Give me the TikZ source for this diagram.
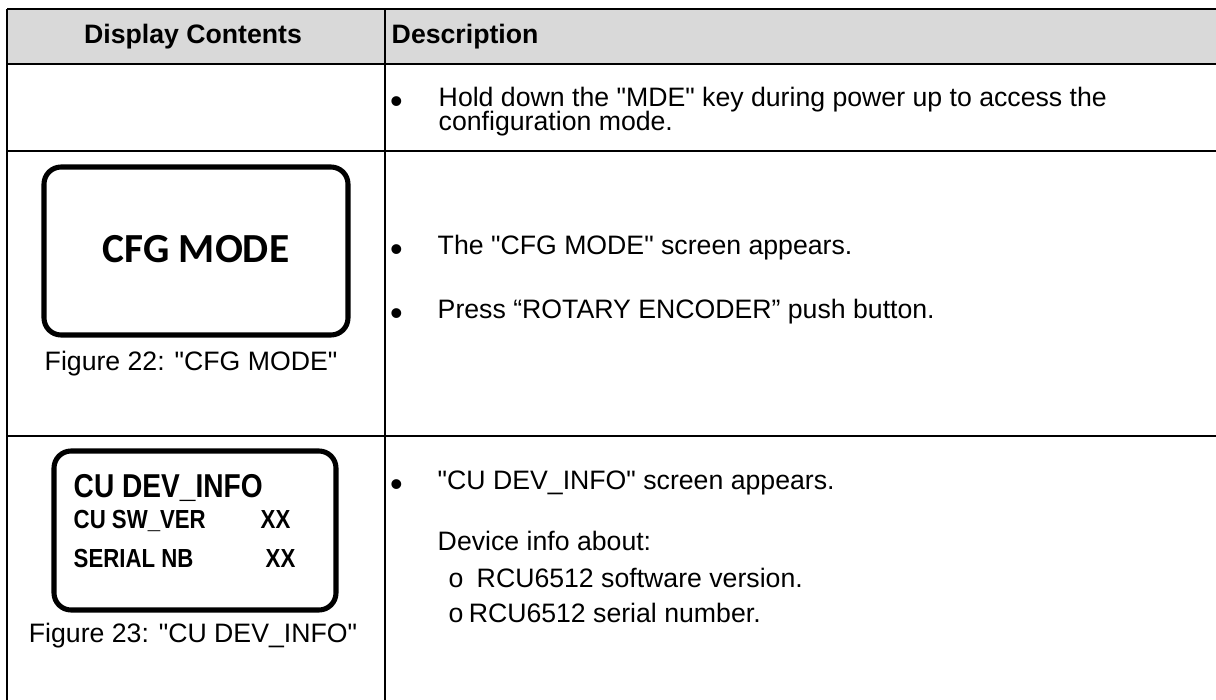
\documentclass[tikz,border=0pt]{standalone}
\usepackage{fontspec}
\setmainfont{Liberation Sans}[Ligatures=TeXOff]
\newfontfamily\lcdfont{Carlito}
\newfontfamily\narrowfont[FakeStretch=0.85]{Liberation Sans}
\tikzset{every picture/.style={line width=0.56pt}}
\tikzset{txt/.style={anchor=base west,inner sep=0pt,font=\fontsize{10}{12}\selectfont},
  bul/.style={anchor=base,inner sep=0pt,font=\fontsize{13.5}{14}\selectfont}}

\begin{document}
\begin{tikzpicture}[x=0.375pt,y=0.375pt,yscale=-1,xscale=1]
\useasboundingbox (0,0) rectangle (1216,700);

%Shape: Rectangle [id:hdrfill] 
\fill [color={rgb, 255:red, 217; green, 217; blue, 217 }] (7,9) rectangle (1216,64) ;

%Straight Lines [id:toprule] 
\draw    (7,9) -- (1216,9) ;
%Straight Lines [id:hdrrule] 
\draw    (7,64) -- (1216,64) ;
%Straight Lines [id:rowonerule] 
\draw    (7,151) -- (1216,151) ;
%Straight Lines [id:rowtworule] 
\draw    (7,436) -- (1216,436) ;
%Straight Lines [id:leftrule] 
\draw    (7,9) -- (7,700) ;
%Straight Lines [id:midrule] 
\draw    (385,9) -- (385,700) ;

%Rounded Rect [id:cfgscreen] 
\draw  [line width=1.9pt, rounded corners=6.4pt]  (44,167) rectangle (348,335) ;
%Rounded Rect [id:devscreen] 
\draw  [line width=1.9pt, rounded corners=6.4pt]  (54,451) rectangle (336,610) ;

% Text Node
\draw (193,43) node [txt,anchor=base,font=\bfseries\fontsize{10}{12}\selectfont] (hdrdisp)  {Display Contents};
% Text Node
\draw (391,43) node [txt,font=\bfseries\fontsize{10}{12}\selectfont] (hdrdesc)  {Description};
% Text Node
\draw (396.5,113) node [bul] (bulone)  {•};
% Text Node
\draw (438,106) node [txt] (holdline)  {Hold down the "MDE" key during power up to access the};
% Text Node
\draw (438,130) node [txt] (holdlinetwo)  {configuration mode.};
% Text Node
\draw (196,262) node [anchor=base,inner sep=0pt,font=\lcdfont\bfseries\fontsize{15.5}{18}\selectfont] (cfgtext)  {CFG MODE};
% Text Node
\draw (191,370) node [txt,anchor=base] (cfgcap)  {Figure 22: "CFG MODE"};
% Text Node
\draw (396.5,261) node [bul] (bultwo)  {•};
% Text Node
\draw (437,254) node [txt] (cfgline)  {The "CFG MODE" screen appears.};
% Text Node
\draw (396.5,325) node [bul] (bulthree)  {•};
% Text Node
\draw (437,318) node [txt] (pressline)  {Press “ROTARY ENCODER” push button.};
% Text Node
\draw (73,497) node [txt,font=\narrowfont\bfseries\fontsize{12.4}{14}\selectfont] (devtitle)  {CU DEV\_INFO};
% Text Node
\draw (73,528) node [txt,font=\narrowfont\bfseries\fontsize{9.8}{12}\selectfont] (swver)  {CU SW\_VER};
% Text Node
\draw (260,528) node [txt,font=\narrowfont\bfseries\fontsize{9.8}{12}\selectfont] (swval)  {XX};
% Text Node
\draw (73,567) node [txt,font=\narrowfont\bfseries\fontsize{9.8}{12}\selectfont] (serial)  {SERIAL NB};
% Text Node
\draw (265,567) node [txt,font=\narrowfont\bfseries\fontsize{9.8}{12}\selectfont] (serval)  {XX};
% Text Node
\draw (193,642) node [txt,anchor=base] (devcap)  {Figure 23: "CU DEV\_INFO"};
% Text Node
\draw (396.5,496) node [bul] (bulfour)  {•};
% Text Node
\draw (437,489) node [txt] (devline)  {"CU DEV\_INFO" screen appears.};
% Text Node
\draw (437,550) node [txt] (infoline)  {Device info about:};
% Text Node
\draw (448,587) node [txt] (subone)  {o};
% Text Node
\draw (476,587) node [txt] (swline)  {RCU6512 software version.};
% Text Node
\draw (448,622) node [txt] (subtwo)  {o};
% Text Node
\draw (468,622) node [txt] (serline)  {RCU6512 serial number.};

\end{tikzpicture}
\end{document}
